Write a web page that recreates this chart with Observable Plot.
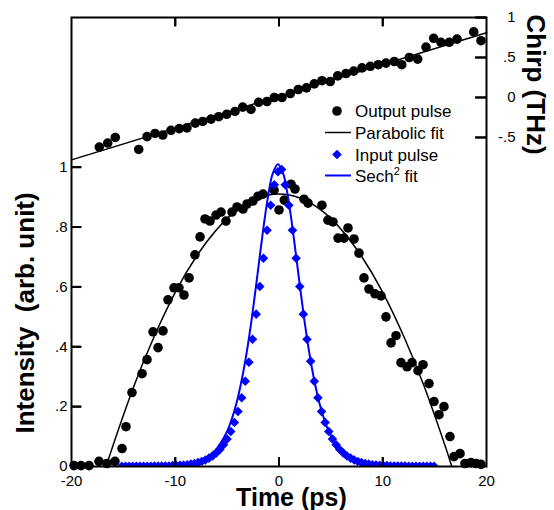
<!DOCTYPE html>
<html><head><meta charset="utf-8">
<script src="https://cdn.jsdelivr.net/npm/d3@7"></script>
<script src="https://cdn.jsdelivr.net/npm/@observablehq/plot@0.6"></script>
<style>
body{margin:0;background:#fff;}
#wrap{position:relative;width:554px;height:510px;font-family:"Liberation Sans",Arial,sans-serif;}
#legend{position:absolute;left:0;top:0;pointer-events:none;font-family:"Liberation Sans",Arial,sans-serif;}
</style></head><body>
<div id="wrap"><div id="chart"></div>
<svg id="legend" width="554" height="510" font-size="17" fill="#000">
  <circle cx="337" cy="111" r="4.8" fill="#000"/>
  <text x="355" y="117">Output pulse</text>
  <line x1="325" x2="351" y1="132.5" y2="132.5" stroke="#000" stroke-width="1.5"/>
  <text x="355" y="138.5">Parabolic fit</text>
  <path d="M337,149.7 L341.8,154.5 L337,159.3 L332.2,154.5Z" fill="#0000ff"/>
  <text x="355" y="160.5">Input pulse</text>
  <line x1="325" x2="351" y1="175.5" y2="175.5" stroke="#0000ff" stroke-width="2"/>
  <text x="355" y="181.5">Sech<tspan dy="-7" font-size="11">2</tspan><tspan dy="7"> fit</tspan></text>
</svg></div>
<script>
// ---- tick values ----
const timeTicks = [-20, -10, 0, 10, 20];
const innerTimeTicks = [-10, 0, 10];
const intensityTicks = [0, 0.2, 0.4, 0.6, 0.8, 1];
const chirpTicks = [-0.5, 0, 0.5, 1];

// ---- Output pulse (black dots) ----
const outTime = [-19.76,-19.08,-18.31,-17.35,-16.58,-15.81,-15.13,-14.75,-14.17,-13.2,-12.72,-12.14,-11.66,-11.18,-10.7,-10.12,-9.64,-9.16,-8.67,-8.1,-7.61,-7.13,-6.65,-6.07,-5.59,-5.11,-4.53,-4.05,-3.47,-3.08,-2.51,-2.02,-1.54,-0.48,0,0.51,1.16,1.54,2.41,2.8,4.14,4.72,5.2,5.69,6.27,6.65,7.23,7.71,8.19,8.67,9.25,9.83,10.31,10.8,11.28,11.76,12.34,12.82,13.4,13.88,14.46,14.94,15.42,15.9,16.48,16.87,17.45,17.93,18.51,18.99,19.47];
const outIntensity = [0.003,0.003,0.003,0.017,0.01,0.017,0.06,0.133,0.247,0.31,0.357,0.45,0.397,0.453,0.557,0.597,0.597,0.573,0.63,0.707,0.767,0.827,0.82,0.84,0.85,0.82,0.85,0.867,0.86,0.877,0.887,0.903,0.91,0.923,0.857,0.89,0.943,0.927,0.893,0.88,0.873,0.823,0.817,0.763,0.763,0.797,0.76,0.713,0.63,0.593,0.577,0.57,0.5,0.413,0.437,0.347,0.333,0.347,0.32,0.34,0.277,0.217,0.173,0.2,0.1,0.033,0.043,0.01,0.013,0.01,0.007];

// ---- Parabolic fit ----
const paraTime = [-16.65,-16,-14,-12,-10,-8,-6,-4,-2,0,2,4,6,8,10,12,14,16,16.65];
const paraIntensity = [0,0.070,0.267,0.437,0.582,0.700,0.792,0.858,0.897,0.910,0.897,0.858,0.792,0.700,0.582,0.437,0.267,0.070,0];

// ---- Input pulse (blue diamonds) ----
const inTime = [-15.15,-14.8,-14.45,-14.1,-13.75,-13.4,-13.05,-12.7,-12.35,-12.0,-11.65,-11.3,-10.95,-10.6,-10.25,-9.9,-9.55,-9.2,-8.85,-8.5,-8.15,-7.8,-7.45,-7.1,-6.75,-6.4,-6.05,-5.7,-5.35,-5.0,-4.65,-4.3,-3.95,-3.6,-3.25,-2.9,-2.55,-2.2,-1.85,-1.5,-1.15,-0.8,-0.45,-0.1,0.25,0.6,0.95,1.3,1.65,2.0,2.35,2.7,3.05,3.4,3.75,4.1,4.45,4.8,5.15,5.5,5.85,6.2,6.55,6.9,7.25,7.6,7.95,8.3,8.65,9.0,9.35,9.7,10.05,10.4,10.75,11.1,11.45,11.8,12.15,12.5,12.85,13.2,13.55,13.9,14.25,14.6,14.95];
const inIntensity = [0.001,0.001,0.001,0.001,0.001,0.001,0.001,0.001,0.001,0.002,0.002,0.002,0.002,0.002,0.003,0.003,0.004,0.005,0.006,0.008,0.010,0.013,0.017,0.022,0.028,0.035,0.045,0.057,0.073,0.092,0.117,0.147,0.184,0.230,0.285,0.348,0.425,0.509,0.601,0.696,0.789,0.873,0.941,0.985,0.992,0.941,0.873,0.789,0.696,0.601,0.509,0.425,0.352,0.285,0.230,0.184,0.147,0.117,0.092,0.073,0.057,0.045,0.035,0.028,0.022,0.017,0.013,0.010,0.008,0.006,0.005,0.004,0.003,0.003,0.002,0.002,0.002,0.002,0.002,0.001,0.001,0.001,0.001,0.001,0.001,0.001,0.001];

// ---- Sech^2 fit ----
const sechTime = [-15.1,-12.1,-10.1,-9.1,-8.1,-7.1,-6.1,-5.1,-4.6,-4.1,-3.6,-3.1,-2.6,-2.1,-1.6,-1.1,-0.6,-0.1,0.4,0.9,1.4,1.9,2.4,2.9,3.4,3.9,4.4,4.9,5.9,6.9,7.9,8.9,9.9,11.9,14.9];
const sechIntensity = [0,0.0008,0.0034,0.0068,0.0138,0.0278,0.0557,0.110,0.153,0.211,0.288,0.384,0.501,0.634,0.771,0.893,0.979,1.010,0.979,0.893,0.771,0.634,0.501,0.384,0.288,0.211,0.153,0.110,0.0557,0.0278,0.0138,0.0068,0.0034,0.0008,0];

// ---- Chirp (right axis, THz) ----
const chirpTime = [-17.32,-16.51,-15.78,-13.52,-12.72,-11.95,-11.2,-10.41,-9.61,-8.87,-8.07,-7.35,-6.55,-5.81,-5.04,-4.24,-3.5,-2.7,-1.96,-1.16,-0.45,0.29,1.09,1.86,2.65,3.4,4.14,4.94,5.66,6.46,7.2,8.0,8.8,9.57,10.31,11.11,11.83,12.56,13.37,14.17,14.91,15.61,16.41,17.16,18.77,19.47];
const chirpValue = [-0.62,-0.57,-0.50,-0.65,-0.49,-0.45,-0.47,-0.41,-0.39,-0.38,-0.32,-0.30,-0.27,-0.24,-0.21,-0.175,-0.12,-0.15,-0.06,-0.05,0.0,0.0,0.05,0.10,0.12,0.17,0.21,0.20,0.27,0.30,0.33,0.37,0.39,0.41,0.43,0.45,0.41,0.50,0.48,0.63,0.74,0.69,0.69,0.73,0.82,0.71];
const chirpFitTime = [-20, 20];
const chirpFitValue = [-0.78, 0.81];

// map chirp (THz) onto the intensity scale: right axis 1 THz at top, 0 THz at 1.2328
const chirpZero = 1.2328, chirpScale = 0.2672;
const toLeft = c => chirpZero + chirpScale * c;
const fromLeft = v => (v - chirpZero) / chirpScale;

const fmt = v => {
  const r = Math.round(v * 100) / 100;
  if (Math.abs(r) < 1e-9) return "0";
  return String(r).replace(/^(-?)0\./, "$1.");
};

const zip = (xs, ys, f = d => d) => xs.map((x, i) => ({x, y: f(ys[i])}));
const outData = zip(outTime, outIntensity);
const paraData = zip(paraTime, paraIntensity);
const inData = zip(inTime, inIntensity);
const sechData = zip(sechTime, sechIntensity);
const chirpData = zip(chirpTime, chirpValue, toLeft);
const chirpFit = zip(chirpFitTime, chirpFitValue, toLeft);

const W = 554, H = 510, ML = 71, MR = 68, MT = 17, MB = 44;
const FW = W - ML - MR, FH = H - MT - MB;
const X0 = -20, X1 = 20, Y0 = 0, Y1 = 1.5;
const BLUE = "#0000ff";
const chart = Plot.plot({
  width: W, height: H,
  marginLeft: ML, marginRight: MR, marginTop: MT, marginBottom: MB,
  x: {domain: [X0, X1]},
  y: {domain: [Y0, Y1]},
  style: {fontFamily: "'Liberation Sans', Arial, sans-serif", fontSize: "15px", color: "black", background: "white"},
  marks: [
    Plot.line(chirpFit, {x: "x", y: "y", stroke: "black", strokeWidth: 1.5}),
    Plot.dot(chirpData, {x: "x", y: "y", r: 4.8, fill: "black"}),
    Plot.dot(outData, {x: "x", y: "y", r: 4.8, fill: "black"}),
    Plot.line(paraData, {x: "x", y: "y", stroke: "black", strokeWidth: 1.5, curve: "natural", clip: "frame"}),
    Plot.line(sechData, {x: "x", y: "y", stroke: BLUE, strokeWidth: 2, curve: "catmull-rom", clip: "frame"}),
    Plot.dot(inData, {x: "x", y: "y", symbol: "diamond2", r: 4.3, fill: BLUE, clip: "frame"}),
    Plot.frame({stroke: "black", strokeWidth: 2}),
    // inward tick marks
    Plot.tickX(innerTimeTicks, {x: d => d, insetTop: FH - 9, stroke: "black", strokeWidth: 2}),
    Plot.tickX(innerTimeTicks, {x: d => d, insetBottom: FH - 9, stroke: "black", strokeWidth: 2}),
    Plot.tickY(intensityTicks, {y: d => d, insetRight: FW - 10, stroke: "black", strokeWidth: 2}),
    Plot.tickY(chirpTicks, {y: d => toLeft(d), insetLeft: FW - 11, stroke: "black", strokeWidth: 2}),
    // tick labels
    Plot.axisX({ticks: timeTicks, tickSize: 0, tickPadding: 9, tickFormat: fmt, label: null}),
    Plot.axisY({ticks: intensityTicks, tickSize: 0, tickPadding: 4, tickFormat: fmt, label: null}),
    Plot.axisY({anchor: "right", ticks: chirpTicks.map(toLeft), tickSize: 0, tickPadding: 29, textAnchor: "end",
      tickFormat: v => fmt(Math.round(fromLeft(v) * 10) / 10), label: null}),
    // axis titles
    Plot.text(["Time (ps)"], {x: () => 1.2, frameAnchor: "bottom", dy: 31, fontSize: 25, fontWeight: "bold", textAnchor: "middle", lineAnchor: "middle"}),
    Plot.text(["Intensity\u00a0 (arb. unit)"], {y: () => 0.513, frameAnchor: "left", dx: -46, rotate: -90, fontSize: 26, fontWeight: "bold", textAnchor: "middle", lineAnchor: "middle"}),
    Plot.text(["Chirp (THz)"], {y: () => 1.276, frameAnchor: "right", dx: 49, rotate: 90, fontSize: 26, fontWeight: "bold", textAnchor: "middle", lineAnchor: "middle"})
  ]
});
document.getElementById("chart").appendChild(chart);

// same inward ticks repeated on the overlay layer, positioned with the chart's scales
try {
  let fx, fy;
  try { const sx = chart.scale("x"), sy = chart.scale("y"); fx = v => sx.apply(v); fy = v => sy.apply(v); }
  catch (e) { fx = d3.scaleLinear([X0, X1], [ML, W - MR]); fy = d3.scaleLinear([Y0, Y1], [H - MB, MT]); }
  const px = v => fx(v) + 0.5, py = v => fy(v) + 0.5;
  const tg = d3.select("#legend").append("g").attr("stroke", "black").attr("stroke-width", 2);
  const seg = (x1, y1, x2, y2) => tg.append("line").attr("x1", x1).attr("y1", y1).attr("x2", x2).attr("y2", y2);
  innerTimeTicks.forEach(t => {
    seg(px(t), py(Y0), px(t), py(Y0) - 9);
    seg(px(t), py(Y1), px(t), py(Y1) + 9);
  });
  intensityTicks.forEach(v => seg(px(X0), py(v), px(X0) + 10, py(v)));
  chirpTicks.forEach(c => seg(px(X1), py(toLeft(c)), px(X1) - 11, py(toLeft(c))));
} catch (e) {}
</script></body></html>
